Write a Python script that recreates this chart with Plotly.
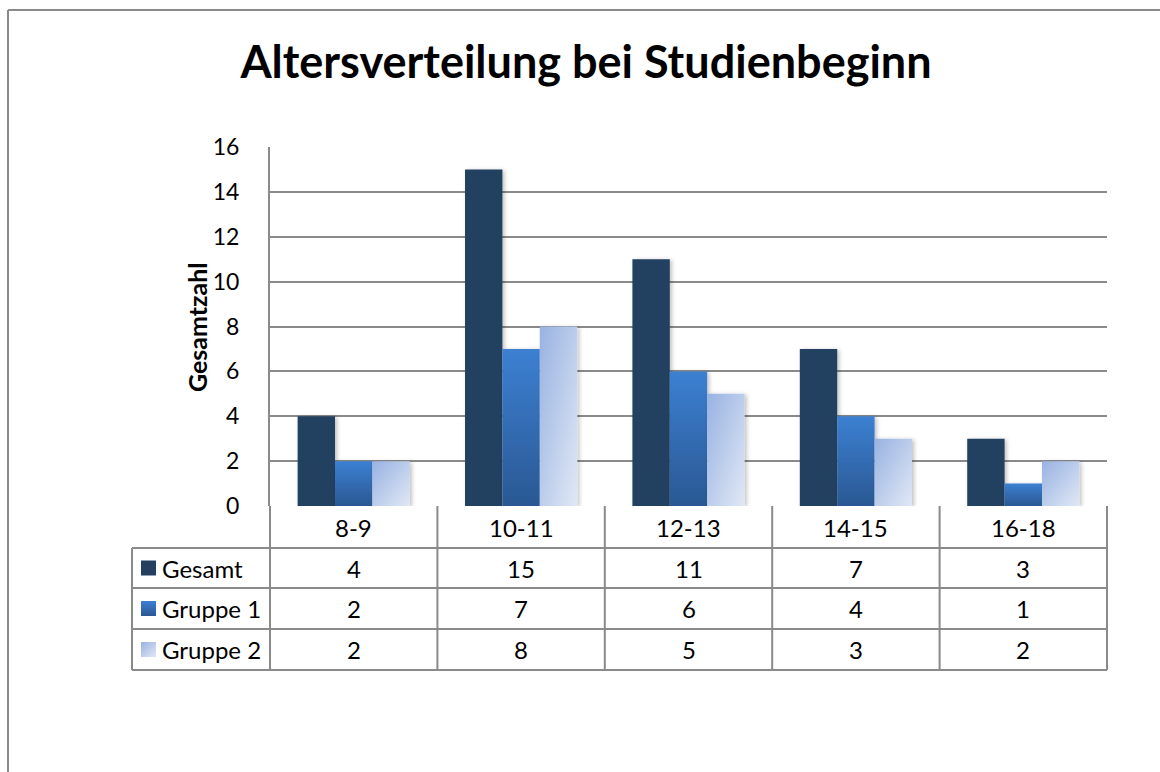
import plotly.graph_objects as go

categories = ["8-9", "10-11", "12-13", "14-15", "16-18"]
series_names = ["Gesamt", "Gruppe 1", "Gruppe 2"]
gesamt = [4, 15, 11, 7, 3]
gruppe1 = [2, 7, 6, 4, 1]
gruppe2 = [2, 8, 5, 3, 2]
y_ticks = [0, 2, 4, 6, 8, 10, 12, 14, 16]
title_text = "Altersverteilung bei Studienbeginn"
y_title = "Gesamtzahl"

series_values = [gesamt, gruppe1, gruppe2]
colors = ["#243F60", "#3470BA", "#BBCBEA"]

W, H = 1160, 772
PL, PR, PT, PB = 270, 1107, 147, 506  # plot area pixels
FONT = "Lato"
GRID = "#8A8A8A"


def px(x):
    return (x - PL) / (PR - PL)


def py(y):
    return (PB - y) / (PB - PT)


fig = go.Figure()
for name, vals, c in zip(series_names, series_values, colors):
    fig.add_trace(go.Bar(x=categories, y=vals, name=name, marker=dict(color=c, line=dict(width=0))))

shapes = []
# table horizontal lines
for yy, x0 in [(548, 132), (588, 132), (629, 132), (670, 132)]:
    shapes.append(dict(type="line", xref="paper", yref="paper", x0=px(x0), x1=px(PR), y0=py(yy), y1=py(yy),
                       line=dict(color=GRID, width=2)))
# left column box
shapes.append(dict(type="line", xref="paper", yref="paper", x0=px(132), x1=px(132), y0=py(548), y1=py(670),
                   line=dict(color=GRID, width=2)))
# vertical column separators
n = len(categories)
for i in range(n + 1):
    xx = PL + (PR - PL) * i / n
    shapes.append(dict(type="line", xref="paper", yref="paper", x0=px(xx), x1=px(xx), y0=py(PB), y1=py(670),
                       line=dict(color=GRID, width=2)))
# outer chart border (top and left)
shapes.append(dict(type="line", xref="paper", yref="paper", x0=px(8), x1=px(1165), y0=py(10), y1=py(10),
                   line=dict(color=GRID, width=2)))
shapes.append(dict(type="line", xref="paper", yref="paper", x0=px(8), x1=px(8), y0=py(10), y1=py(780),
                   line=dict(color=GRID, width=2)))

TF = dict(family=FONT, size=24, color="#000")
annotations = []
row_y = [568, 608.5, 649.5]
# header row
for c in categories:
    annotations.append(dict(x=c, xref="x", y=py(527), yref="paper", text=c, showarrow=False,
                            xanchor="center", yanchor="middle", font=TF))
for name, vals, c, ry in zip(series_names, series_values, colors, row_y):
    shapes.append(dict(type="rect", xref="paper", yref="paper", x0=px(141), x1=px(156), y0=py(ry - 7.5),
                       y1=py(ry + 7.5), fillcolor=c, line=dict(width=0)))
    annotations.append(dict(x=px(160), xref="paper", y=py(ry), yref="paper", text=name, showarrow=False,
                            xanchor="left", yanchor="middle", font=TF))
    for cat, v in zip(categories, vals):
        annotations.append(dict(x=cat, xref="x", y=py(ry), yref="paper", text=str(v), showarrow=False,
                                xanchor="center", yanchor="middle", font=TF))
annotations.append(dict(x=px(197), xref="paper", y=py(327), yref="paper", text="<b>" + y_title + "</b>",
                        showarrow=False, textangle=-90, xanchor="center", yanchor="middle",
                        font=dict(family=FONT, size=25, color="#000")))

fig.update_layout(
    width=W, height=H, autosize=False,
    margin=dict(l=PL, r=W - PR, t=PT, b=H - PB, pad=0),
    paper_bgcolor="white", plot_bgcolor="white",
    showlegend=False,
    barmode="group", bargap=0.33, bargroupgap=0,
    title=dict(text="<b>" + title_text + "</b>", xref="container", yref="container",
               x=586 / W, y=1 - 62 / H, xanchor="center", yanchor="middle",
               font=dict(family=FONT, size=45, color="#000")),
    xaxis=dict(type="category", categoryorder="array", categoryarray=categories,
               showticklabels=False, showgrid=False, showline=False, zeroline=False, ticks=""),
    yaxis=dict(range=[0, 16], tickvals=y_ticks, showgrid=True, gridcolor=GRID, gridwidth=1.5,
               showline=True, linecolor=GRID, linewidth=2, zeroline=False, ticks="",
               ticklabelstandoff=24, tickfont=dict(family=FONT, size=23, color="#000")),
    shapes=shapes, annotations=annotations,
    font=dict(family=FONT),
)

post = """
document.body.style.margin = '0';
document.body.style.padding = '0';
var gd = document.getElementById('{plot_id}');
function applyGrad(){
  var svg = gd.querySelector('svg.main-svg');
  if(!svg) return;
  var defs = svg.querySelector('defs');
  var ns = 'http://www.w3.org/2000/svg';
  function mk(id, x1, y1, x2, y2, stops){
    if (document.getElementById(id)) return;
    var g = document.createElementNS(ns, 'linearGradient');
    g.setAttribute('id', id);
    g.setAttribute('x1', x1); g.setAttribute('y1', y1);
    g.setAttribute('x2', x2); g.setAttribute('y2', y2);
    stops.forEach(function(s){
      var st = document.createElementNS(ns, 'stop');
      st.setAttribute('offset', s[0]); st.setAttribute('stop-color', s[1]);
      g.appendChild(st);
    });
    defs.appendChild(g);
  }
  mk('gradG1', '0', '0', '0', '1', [['0', '#3C80D2'], ['1', '#2A5893']]);
  mk('gradG2', '0', '0', '1', '1', [['0', '#98B2E2'], ['1', '#E0E8F5']]);
  if (!document.getElementById('barShadow')) {
    var f = document.createElementNS(ns, 'filter');
    f.setAttribute('id', 'barShadow');
    f.setAttribute('x', '-20%'); f.setAttribute('y', '-5%');
    f.setAttribute('width', '150%'); f.setAttribute('height', '115%');
    var d = document.createElementNS(ns, 'feDropShadow');
    d.setAttribute('dx', '2'); d.setAttribute('dy', '1');
    d.setAttribute('stdDeviation', '2'); d.setAttribute('flood-opacity', '0.25');
    f.appendChild(d); defs.appendChild(f);
  }
  gd.querySelectorAll('path').forEach(function(p){
    var f = p.style.fill;
    if (f === 'rgb(52, 112, 186)') p.style.fill = 'url(#gradG1)';
    else if (f === 'rgb(187, 203, 234)') p.style.fill = 'url(#gradG2)';
  });
  gd.querySelectorAll('g.trace.bars path').forEach(function(p){
    p.setAttribute('filter', 'url(#barShadow)');
  });
}
applyGrad();
gd.on('plotly_afterplot', applyGrad);
"""

fig.write_html("out.html", post_script=post, config={"displayModeBar": False})
